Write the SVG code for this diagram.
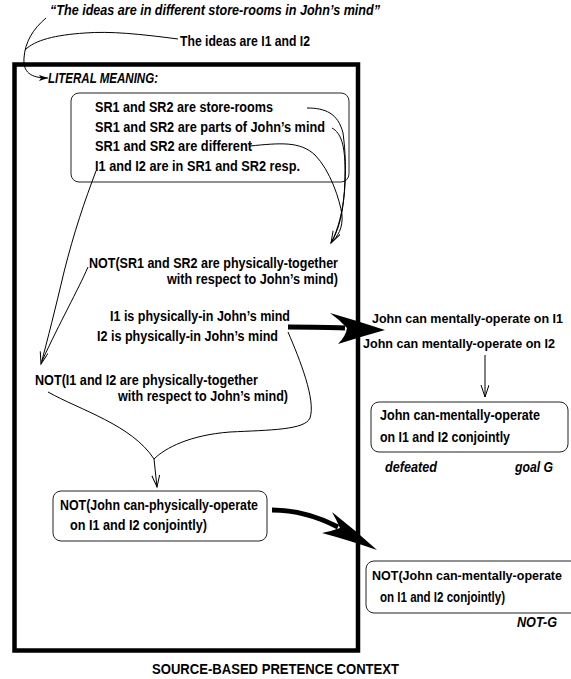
<svg xmlns="http://www.w3.org/2000/svg" width="571" height="679" viewBox="0 0 571 679">
<style>
text{font-family:"Liberation Sans Narrow","Liberation Sans",Arial,sans-serif;font-size:14px;font-weight:bold;fill:#000}
.it{font-style:italic}
.r{font-size:13.5px}
.s{font-size:13px}
.box{fill:none;stroke:#222;stroke-width:1}
.ln{fill:none;stroke:#000;stroke-width:1}
.thick{fill:none;stroke:#000;stroke-width:5}
</style>
<defs>
<marker id="v" markerUnits="userSpaceOnUse" markerWidth="14" markerHeight="10" refX="12" refY="4" orient="auto">
<path d="M0,0 L12,4 L0,8" fill="none" stroke="#000" stroke-width="1"/>
</marker>
<marker id="f" markerUnits="userSpaceOnUse" markerWidth="10" markerHeight="8" refX="9" refY="3" orient="auto">
<path d="M0,0 L9,3 L0,6 L2,3 Z" fill="#000"/>
</marker>
</defs>
<rect id="context" x="14.5" y="64.5" width="343.5" height="586" fill="none" stroke="#000" stroke-width="4.5"/>
<g id="title"><text class="it" x="50" y="15" textLength="330" lengthAdjust="spacingAndGlyphs">“The ideas are in different store-rooms in John’s mind”</text></g>
<g id="ideas"><text x="180" y="46" textLength="130" lengthAdjust="spacingAndGlyphs">The ideas are I1 and I2</text></g>
<g id="literal"><text class="it" x="48" y="83" textLength="110" lengthAdjust="spacingAndGlyphs">LITERAL MEANING:</text></g>
<g id="sr-box">
<rect class="box" x="71" y="93" width="278" height="89" rx="8"/>
<text x="95" y="112" textLength="178" lengthAdjust="spacingAndGlyphs">SR1 and SR2 are store-rooms</text>
<text x="95" y="131.5" textLength="230" lengthAdjust="spacingAndGlyphs">SR1 and SR2 are parts of John’s mind</text>
<text x="95" y="151" textLength="157" lengthAdjust="spacingAndGlyphs">SR1 and SR2 are different</text>
<text x="95" y="170.5" textLength="205" lengthAdjust="spacingAndGlyphs">I1 and I2 are in SR1 and SR2 resp.</text>
</g>
<g id="not-sr">
<text x="89" y="268" textLength="249" lengthAdjust="spacingAndGlyphs">NOT(SR1 and SR2 are physically-together</text>
<text x="167" y="284" textLength="171" lengthAdjust="spacingAndGlyphs">with respect to John’s mind)</text>
</g>
<g id="physically-in">
<text x="110" y="321" textLength="180" lengthAdjust="spacingAndGlyphs">I1 is physically-in John’s mind</text>
<text x="97" y="341" textLength="181" lengthAdjust="spacingAndGlyphs">I2 is physically-in John’s mind</text>
</g>
<g id="not-i">
<text x="35" y="385" textLength="223" lengthAdjust="spacingAndGlyphs">NOT(I1 and I2 are physically-together</text>
<text x="118" y="401" textLength="170" lengthAdjust="spacingAndGlyphs">with respect to John’s mind)</text>
</g>
<g id="mentally">
<text class="s" x="372" y="323" textLength="191" lengthAdjust="spacingAndGlyphs">John can mentally-operate on I1</text>
<text class="r" x="363" y="348" textLength="192" lengthAdjust="spacingAndGlyphs">John can mentally-operate on I2</text>
</g>
<g id="goal">
<rect class="box" x="371" y="402" width="197" height="50" rx="8"/>
<text x="380" y="420" textLength="160" lengthAdjust="spacingAndGlyphs">John can-mentally-operate</text>
<text x="380" y="442" textLength="130" lengthAdjust="spacingAndGlyphs">on I1 and I2 conjointly</text>
<text class="it" x="385" y="472" textLength="52" lengthAdjust="spacingAndGlyphs">defeated</text>
<text class="it" x="515" y="472" textLength="38" lengthAdjust="spacingAndGlyphs">goal G</text>
</g>
<g id="not-physical">
<rect class="box" x="53" y="491" width="214" height="50" rx="8"/>
<text x="60" y="510" textLength="198" lengthAdjust="spacingAndGlyphs">NOT(John can-physically-operate</text>
<text x="70" y="530" textLength="137" lengthAdjust="spacingAndGlyphs">on I1 and I2 conjointly)</text>
</g>
<g id="not-g">
<rect class="box" x="366" y="561" width="215" height="52" rx="8"/>
<text class="s" x="372" y="580" textLength="190" lengthAdjust="spacingAndGlyphs">NOT(John can-mentally-operate</text>
<text x="380" y="602" textLength="125" lengthAdjust="spacingAndGlyphs">on I1 and I2 conjointly)</text>
<text class="it" x="517" y="627" textLength="40" lengthAdjust="spacingAndGlyphs">NOT-G</text>
</g>
<g id="caption"><text x="152" y="674" textLength="247" lengthAdjust="spacingAndGlyphs">SOURCE-BASED PRETENCE CONTEXT</text></g>
<g id="connectors">
<path class="ln" d="M46,18 C33,29 25,42 24,58 C23,72 30,78 48,78" marker-end="url(#f)"/>
<path class="ln" d="M178,39 C140,34 110,31 85,33 C55,35 35,40 25,50"/>
<path class="ln" d="M307,108 C325,108 338,113 343,133 C348,170 346,215 331,243" marker-end="url(#v)"/>
<path class="ln" d="M332,128 C341,133 345,145 345,170 C345,200 342,225 331,243"/>
<path class="ln" d="M250,146 C280,143 300,141 315,155 C330,170 340,200 342,215 C343,228 338,236 331,243"/>
<path class="ln" d="M96,171 C85,200 74,232 64,272 C55,310 48,338 41,364" marker-end="url(#v)"/>
<path class="ln" d="M88,267 C78,290 60,322 42,361"/>
<path class="ln" d="M48,392 C80,410 132,425 154,459"/>
<path class="ln" d="M288,332 C300,360 316,400 310,418 C305,430 270,430 230,432 C190,435 165,448 154,459"/>
<path class="ln" d="M154,459 L157,487" marker-end="url(#v)"/>
<path class="ln" d="M485,355 L485,397" marker-end="url(#v)"/>
<path class="thick" d="M288,327 C305,327 325,327 345,328"/>
<path d="M330,313 Q358,321 385,330 Q360,337 338,344 Q346,336 347,328 Q340,320 330,313 Z" fill="#000"/>
<path class="thick" d="M272,510 C295,510 315,515 338,527"/>
<path d="M332,512 Q355,530 377,550 Q348,540 322,533 Q332,531 340,528 Q336,519 332,512 Z" fill="#000"/>
</g>
</svg>
